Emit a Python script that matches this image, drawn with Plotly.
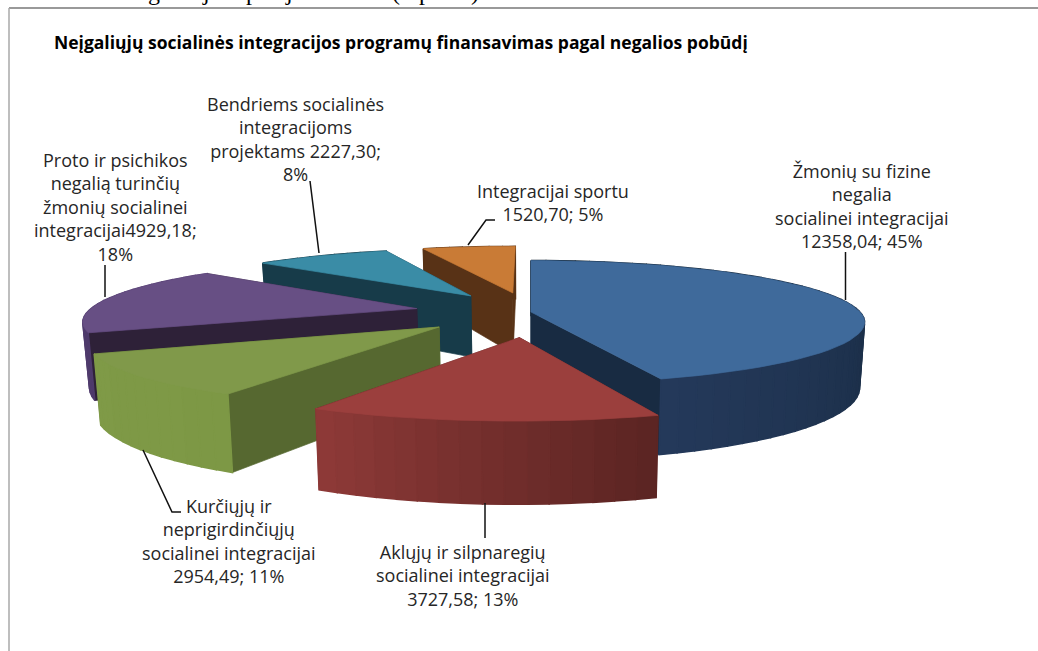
import math
import plotly.graph_objects as go

# ---- data -----------------------------------------------------------------
CATEGORIES = [
    "Žmonių su fizine negalia socialinei integracijai",
    "Aklųjų ir silpnaregių socialinei integracijai",
    "Kurčiųjų ir neprigirdinčiųjų socialinei integracijai",
    "Proto ir psichikos negalią turinčių žmonių socialinei integracijai",
    "Bendriems socialinės integracijoms projektams",
    "Integracijai sportu",
]
VALUES = [12358.04, 3727.58, 2954.49, 4929.18, 2227.30, 1520.70]
LABELS = [
    "Žmonių su fizine<br>negalia<br>socialinei integracijai<br>12358,04; 45%",
    "Aklųjų ir silpnaregių<br>socialinei integracijai<br>3727,58; 13%",
    "Kurčiųjų ir<br>neprigirdinčiųjų<br>socialinei integracijai<br>2954,49; 11%",
    "Proto ir psichikos<br>negalią turinčių<br>žmonių socialinei<br>integracijai4929,18;<br>18%",
    "Bendriems socialinės<br>integracijoms<br>projektams 2227,30;<br>8%",
    "Integracijai sportu<br>1520,70; 5%",
]
TITLE = "Neįgaliųjų socialinės integracijos programų finansavimas pagal negalios pobūdį"
# only the descenders of the line above the chart survive in the scan
CUT_OFF_GLYPHS = ["g", "j", "p", "j", "(", "p", ")"]

# ---- styling ---------------------------------------------------------------
CUT_OFF_X = [154, 206, 252, 289, 396, 425, 475]
PULL = [0.0, 0.40, 0.36, 0.355, 0.34, 0.34]
TOP = ["#3F6A9B", "#9B3F3D", "#80994A", "#674F84", "#3A8CA6", "#C97B36"]
CUT = ["#182B42", "#5A2422", "#566830", "#2E2138", "#173B49", "#583216"]
RIM_A = ["#0D1E2C", "#5A2422", "#7D9845", "#4E3A6B", "#173B49", "#583216"]
RIM_B = ["#24395A", "#8F3A38", "#7F9A47", "#5B4478", "#173B49", "#583216"]
DRAW_ORDER = [0, 5, 4, 3, 2, 1]
LABEL_POS = [(862, 206), (463, 575), (229, 541), (115, 207), (295, 139), (553, 202)]
LEADERS = [
    [(845.5, 252), (845.5, 300)],
    [(485, 503), (485, 538)],
    [(143, 450), (172, 512), (181, 512)],
    [(105, 265), (105, 297)],
    [(310, 181), (319, 253)],
    [(468, 245), (486, 220), (495, 220)],
]
CX, CY, RX, RY, K, H, BOTTOM = 531.0, 312.0, 329.0, 60.0, 0.165, 64.0, 0.985
STEP_DEG = 3.0
LABEL_FONT = "Open Sans"


def top_pt(X, Y):
    s = 1.0 / (1.0 - K * Y)
    return CX + RX * X * s, CY + RY * Y * s


def bot_pt(X, Y):
    s = 1.0 / (1.0 - K * Y)
    x, y = top_pt(X, Y)
    return CX + (x - CX) * BOTTOM, y + H * s


def mix(a, b, t):
    ca = [int(a[i:i + 2], 16) for i in (1, 3, 5)]
    cb = [int(b[i:i + 2], 16) for i in (1, 3, 5)]
    return "rgb(%d,%d,%d)" % tuple(round(p + (q - p) * t) for p, q in zip(ca, cb))


def poly(points, color, width=0.7):
    xs, ys = zip(*points)
    return go.Scatter(x=list(xs) + [xs[0]], y=list(ys) + [ys[0]], mode="lines", fill="toself",
                      fillcolor=color, line=dict(color=color, width=width),
                      hoverinfo="skip", showlegend=False)


total = sum(VALUES)
edges = [0.0]
for v in VALUES:
    edges.append(edges[-1] + v / total * 360.0)

fig = go.Figure()

for i in DRAW_ORDER:
    a0, a1 = edges[i], edges[i + 1]
    mid = math.radians((a0 + a1) / 2)
    AX, AY = PULL[i] * math.sin(mid), -PULL[i] * math.cos(mid)

    n = max(2, int(round((a1 - a0) / STEP_DEG)))
    ring = []
    for j in range(n + 1):
        th = math.radians(a0 + (a1 - a0) * j / n)
        ring.append((AX + math.sin(th), AY - math.cos(th)))

    faces = []
    for j in range(n):
        p, q = ring[j], ring[j + 1]
        color = mix(RIM_A[i], RIM_B[i], (j + 0.5) / n)
        faces.append(((p[1] + q[1]) / 2, [top_pt(*p), top_pt(*q), bot_pt(*q), bot_pt(*p)], color, 1.5))
    for e in (ring[0], ring[-1]):
        faces.append(((e[1] + AY) / 2, [top_pt(AX, AY), top_pt(*e), bot_pt(*e), bot_pt(AX, AY)], CUT[i], 0.7))
    for _, pts, color, width in sorted(faces, key=lambda f: f[0]):
        fig.add_trace(poly(pts, color, width))
    fig.add_trace(poly([top_pt(AX, AY)] + [top_pt(*p) for p in ring], TOP[i]))

for seg in LEADERS:
    fig.add_trace(go.Scatter(x=[p[0] for p in seg], y=[p[1] for p in seg], mode="lines",
                             line=dict(color="#111111", width=1.5),
                             hoverinfo="skip", showlegend=False))

annotations = [dict(x=52, y=42, xref="x", yref="y", text="<b>%s</b>" % TITLE, showarrow=False,
                    xanchor="left", yanchor="middle",
                    font=dict(family=LABEL_FONT, size=17.5, color="#000000"))]
for text, (x, y) in zip(LABELS, LABEL_POS):
    annotations.append(dict(x=x, y=y, xref="x", yref="y", text=text, showarrow=False,
                            xanchor="center", yanchor="middle", align="center",
                            font=dict(family=LABEL_FONT, size=18, color="#262626")))
for glyph, x in zip(CUT_OFF_GLYPHS, CUT_OFF_X):
    annotations.append(dict(x=x, y=7, xref="x", yref="y", text=glyph, showarrow=False,
                            xanchor="center", yanchor="bottom",
                            font=dict(family="Liberation Serif", size=24, color="#000000")))

fig.update_layout(
    width=1038, height=651, margin=dict(l=0, r=0, t=0, b=0),
    paper_bgcolor="white", plot_bgcolor="white", showlegend=False,
    xaxis=dict(range=[0, 1038], visible=False, fixedrange=True),
    yaxis=dict(range=[651, 0], visible=False, fixedrange=True),
    annotations=annotations,
    shapes=[
        dict(type="line", x0=9, x1=1038, y0=8, y1=8, line=dict(color="#777777", width=1.5)),
        dict(type="line", x0=9, x1=9, y0=8, y1=651, line=dict(color="#A8A8A8", width=1.5)),
    ],
)
fig.write_html("out.html", config=dict(displayModeBar=False),
               post_script="document.body.style.margin='0';document.body.style.overflow='hidden';")
